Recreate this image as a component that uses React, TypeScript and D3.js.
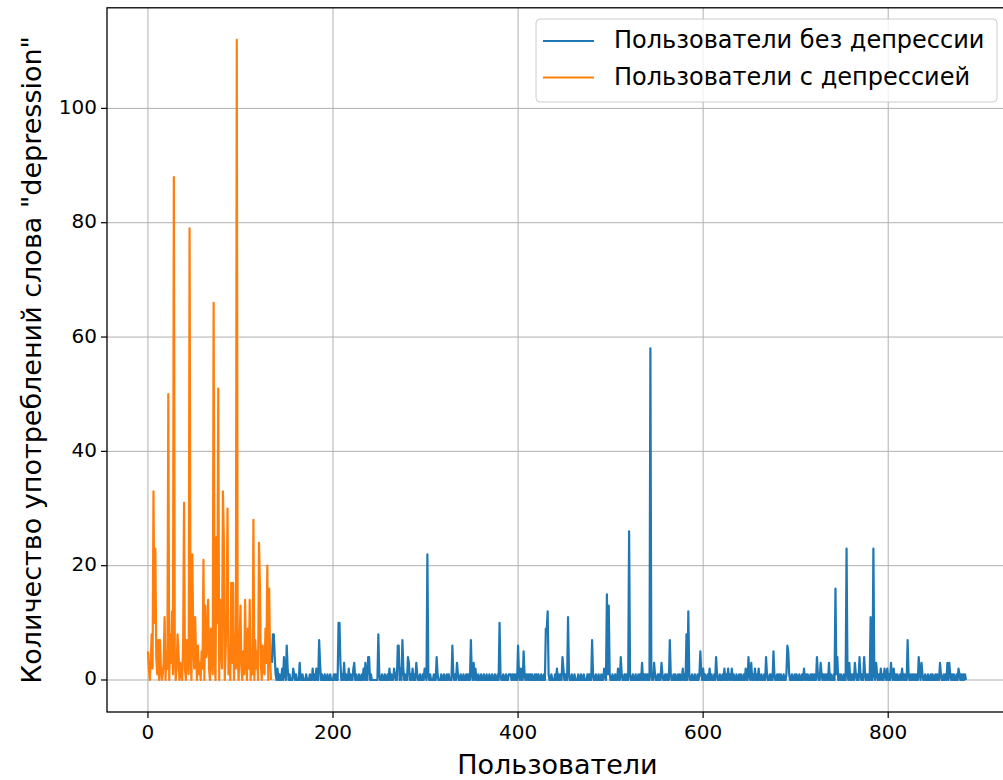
import React from 'react';
import * as d3 from 'd3';

// Orange series: users with depression, indices 0..133
const orangeValues: number[] = [
  5, 2, 0, 3, 8, 2, 33, 10, 23, 4,
  1, 7, 0, 7, 2, 0, 1, 3, 11, 0,
  5, 2, 50, 0, 8, 3, 12, 1, 88, 4,
  0, 2, 8, 5, 0, 3, 1, 0, 6, 31,
  2, 0, 7, 3, 1, 79, 5, 0, 22, 6,
  2, 11, 4, 0, 6, 1, 3, 0, 5, 2,
  21, 0, 13, 4, 6, 14, 2, 0, 9, 3,
  1, 66, 4, 0, 25, 10, 51, 0, 14, 6,
  2, 33, 25, 0, 5, 12, 30, 1, 6, 0,
  17, 3, 17, 0, 8, 2, 112, 4, 0, 6,
  13, 2, 0, 5, 1, 14, 3, 0, 9, 2,
  14, 0, 4, 1, 28, 0, 7, 2, 5, 0,
  24, 17, 3, 0, 6, 2, 1, 9, 3, 20,
  0, 16, 4, 0,
];

// Blue series: users without depression, indices 134..884 (zero where not listed)
const blueStart = 134;
const blueEnd = 884;
const blueNonZero: [number, number][] = [
  [134, 3], [135, 8], [136, 8], [137, 4], [138, 1], [140, 2], [142, 1], [145, 2], [147, 4], [148, 1],
  [150, 6], [151, 2], [153, 1], [157, 2], [158, 1], [160, 1], [164, 3], [167, 1], [171, 1], [175, 1],
  [178, 2], [180, 1], [182, 2], [185, 7], [186, 3], [188, 1], [191, 1], [194, 1], [197, 1], [201, 1],
  [203, 1], [206, 10], [207, 10], [208, 3], [210, 1], [212, 3], [214, 1], [217, 2], [219, 1], [222, 2],
  [223, 3], [225, 1], [228, 1], [231, 1], [233, 2], [235, 3], [238, 4], [239, 4], [241, 1], [249, 8],
  [250, 1], [253, 1], [256, 1], [259, 1], [261, 2], [263, 1], [266, 2], [267, 1], [270, 6], [271, 6],
  [273, 2], [275, 7], [276, 2], [278, 1], [281, 4], [282, 3], [284, 1], [286, 2], [288, 1], [290, 3],
  [291, 1], [294, 1], [297, 1], [299, 2], [300, 1], [302, 22], [303, 1], [305, 1], [309, 1], [312, 4],
  [313, 1], [317, 1], [320, 1], [323, 1], [325, 1], [329, 6], [330, 1], [332, 1], [334, 3], [335, 1],
  [338, 1], [341, 1], [344, 1], [346, 1], [349, 7], [350, 1], [352, 3], [354, 2], [357, 1], [360, 1],
  [363, 1], [366, 1], [369, 1], [372, 1], [375, 1], [378, 1], [380, 10], [381, 1], [384, 1], [387, 1],
  [390, 1], [391, 1], [392, 1], [394, 1], [396, 1], [398, 1], [400, 6], [401, 1], [403, 2], [406, 5],
  [407, 1], [409, 1], [411, 1], [413, 1], [415, 1], [418, 1], [420, 1], [422, 1], [425, 1], [428, 1],
  [430, 9], [431, 9], [432, 12], [433, 1], [436, 1], [440, 1], [442, 2], [444, 1], [446, 1], [448, 4],
  [449, 2], [451, 1], [454, 11], [455, 1], [458, 1], [461, 1], [465, 1], [468, 1], [471, 1], [475, 1],
  [477, 1], [480, 7], [481, 1], [484, 1], [487, 1], [490, 1], [493, 2], [494, 1], [496, 15], [497, 1],
  [498, 13], [499, 1], [502, 1], [505, 1], [508, 2], [511, 4], [512, 1], [515, 1], [517, 1], [520, 26],
  [521, 1], [524, 1], [527, 1], [530, 1], [532, 1], [534, 3], [536, 1], [538, 1], [540, 1], [543, 58],
  [544, 1], [547, 3], [548, 1], [551, 1], [553, 1], [555, 3], [556, 1], [559, 1], [561, 1], [564, 7],
  [565, 1], [568, 1], [570, 1], [573, 1], [575, 1], [578, 2], [580, 1], [582, 8], [584, 12], [585, 1],
  [588, 1], [591, 1], [594, 1], [596, 1], [597, 5], [598, 1], [600, 2], [602, 1], [605, 1], [607, 2],
  [609, 1], [612, 1], [614, 4], [615, 1], [618, 1], [621, 1], [623, 2], [625, 1], [627, 2], [629, 1],
  [631, 2], [633, 1], [636, 1], [639, 1], [641, 1], [644, 1], [646, 2], [649, 4], [650, 1], [652, 3],
  [654, 1], [656, 2], [658, 1], [660, 2], [663, 1], [666, 1], [668, 4], [669, 1], [672, 1], [674, 1],
  [676, 5], [677, 1], [680, 1], [682, 1], [684, 1], [687, 1], [690, 1], [691, 6], [692, 5], [693, 1],
  [696, 1], [699, 1], [701, 1], [704, 1], [707, 1], [709, 2], [711, 1], [713, 1], [716, 1], [718, 1],
  [720, 1], [723, 4], [724, 1], [727, 3], [728, 1], [730, 1], [732, 1], [734, 1], [736, 3], [738, 1],
  [741, 1], [743, 16], [744, 1], [745, 4], [747, 1], [749, 1], [752, 1], [755, 23], [756, 1], [758, 3],
  [760, 1], [762, 1], [764, 3], [765, 1], [767, 1], [769, 4], [770, 1], [772, 1], [774, 4], [775, 1],
  [777, 1], [779, 1], [781, 11], [784, 23], [785, 1], [787, 3], [788, 1], [790, 1], [792, 2], [794, 1],
  [796, 2], [797, 1], [799, 2], [801, 1], [803, 3], [804, 1], [806, 2], [808, 1], [810, 1], [813, 1],
  [815, 2], [817, 1], [819, 1], [821, 7], [822, 1], [824, 1], [826, 1], [828, 1], [830, 1], [833, 4],
  [834, 1], [836, 3], [837, 1], [840, 1], [843, 1], [846, 1], [848, 1], [851, 1], [853, 1], [856, 3],
  [857, 1], [860, 1], [862, 1], [864, 3], [866, 3], [867, 1], [869, 1], [871, 1], [874, 1], [876, 2],
  [877, 1], [879, 1], [881, 1], [883, 1],
];

const xTicks = [0, 200, 400, 600, 800];
const yTicks = [0, 20, 40, 60, 80, 100];
const legendLabels = ['Пользователи без депрессии', 'Пользователи с депрессией'];
const xLabel = 'Пользователи';
const yLabel = 'Количество употреблений слова "depression"';

const BLUE = '#1f77b4';
const ORANGE = '#ff7f0e';
const FONT = 'DejaVu Sans, sans-serif';

export default function App() {
  const W = 1003;
  const H = 780;
  const left = 107;
  const right = 1007.8;
  const top = 7.8;
  const bottom = 712;

  const x = d3.scaleLinear().domain([-44.25, 929.25]).range([left, right]);
  const y = d3.scaleLinear().domain([-5.6, 117.6]).range([bottom, top]);

  const orange: [number, number][] = orangeValues.map((v, i) => [i, v]);
  const blueMap = new Map<number, number>(blueNonZero);
  const blue: [number, number][] = [];
  for (let i = blueStart; i <= blueEnd; i++) blue.push([i, blueMap.get(i) ?? 0]);

  const line = d3
    .line<[number, number]>()
    .x((d) => x(d[0]))
    .y((d) => y(d[1]));

  return (
    <svg
      width={W}
      height={H}
      style={{ position: 'absolute', left: 0, top: 0, background: '#fff' }}
      fontFamily={FONT}
    >
      <defs>
        <clipPath id="plot">
          <rect x={left} y={top} width={right - left} height={bottom - top} />
        </clipPath>
      </defs>
      <rect x={0} y={0} width={W} height={H} fill="#fff" />
      {/* grid */}
      <g stroke="#b0b0b0" strokeWidth={1}>
        {xTicks.map((t) => (
          <line key={'gx' + t} x1={x(t)} x2={x(t)} y1={top} y2={bottom} />
        ))}
        {yTicks.map((t) => (
          <line key={'gy' + t} x1={left} x2={right} y1={y(t)} y2={y(t)} />
        ))}
      </g>
      {/* lines */}
      <g clipPath="url(#plot)" fill="none" strokeWidth={2.2} strokeLinejoin="round" strokeLinecap="butt">
        <path d={line(blue) || ''} stroke={BLUE} />
        <path d={line(orange) || ''} stroke={ORANGE} />
      </g>
      {/* spines */}
      <rect x={left} y={top} width={right - left} height={bottom - top} fill="none" stroke="#000" strokeWidth={1.3} />
      {/* ticks */}
      <g stroke="#000" strokeWidth={1.2}>
        {xTicks.map((t) => (
          <line key={'tx' + t} x1={x(t)} x2={x(t)} y1={bottom} y2={bottom + 6} />
        ))}
        {yTicks.map((t) => (
          <line key={'ty' + t} x1={left - 6} x2={left} y1={y(t)} y2={y(t)} />
        ))}
      </g>
      <g fontSize={20} fill="#000">
        {xTicks.map((t) => (
          <text key={'lx' + t} x={x(t)} y={bottom + 12} textAnchor="middle" dominantBaseline="hanging">
            {t}
          </text>
        ))}
        {yTicks.map((t) => (
          <text key={'ly' + t} x={left - 10} y={y(t)} textAnchor="end" dominantBaseline="middle">
            {t}
          </text>
        ))}
      </g>
      {/* axis labels */}
      <text x={(left + right) / 2} y={774} textAnchor="middle" fontSize={27} fill="#000">
        {xLabel}
      </text>
      <text
        transform={`translate(${41}, ${(top + bottom) / 2}) rotate(-90)`}
        textAnchor="middle"
        fontSize={27}
        fill="#000"
      >
        {yLabel}
      </text>
      {/* legend */}
      <g>
        <rect x={536} y={19} width={461} height={83} rx={4} fill="#fff" fillOpacity={0.8} stroke="#cccccc" strokeWidth={1} />
        {legendLabels.map((lab, i) => {
          const cy = 41 + i * 36.5;
          return (
            <g key={lab}>
              <line x1={543} x2={594} y1={cy} y2={cy} stroke={i === 0 ? BLUE : ORANGE} strokeWidth={2.2} />
              <text x={614} y={cy} dominantBaseline="middle" fontSize={24} fill="#000">
                {lab}
              </text>
            </g>
          );
        })}
      </g>
    </svg>
  );
}
